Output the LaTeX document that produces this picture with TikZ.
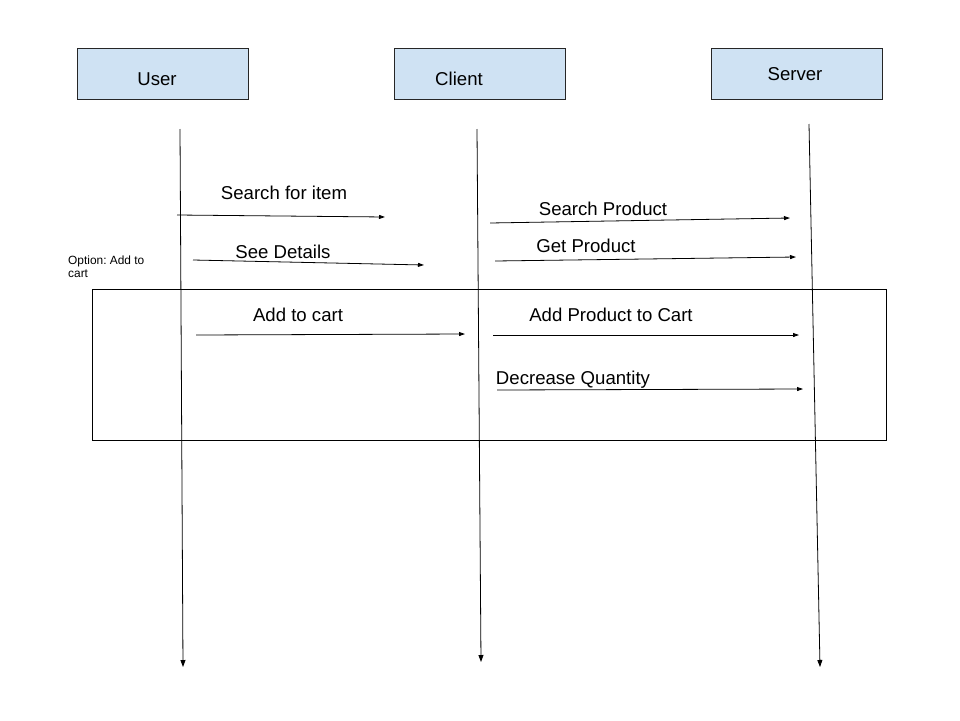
\documentclass[tikz,border=0pt]{standalone}
\usepackage{fontspec}
\setmainfont{Liberation Sans}
\usetikzlibrary{arrows.meta}
\frenchspacing
\begin{document}
\begin{tikzpicture}[x=1pt,y=-1pt,
  actor/.style={draw=black!85,fill=actorblue,line width=0.8pt,minimum width=171pt,minimum height=51pt,inner sep=0pt},
  lbl/.style={font=\fontsize{18.6}{22}\selectfont,inner sep=0pt},
  small/.style={font=\fontsize{11.9}{13.5}\selectfont,inner sep=0pt,align=left},
  msg/.style={line width=0.8pt,-{Triangle[length=6pt,width=4pt]}},
  life/.style={line width=0.8pt,-{Triangle[length=7pt,width=5pt]}}]
\definecolor{actorblue}{HTML}{CFE2F3}
\fill[white] (0,0) rectangle (960,720);
\useasboundingbox (0,0) rectangle (960,720);
% actor boxes
\node[actor] (userbox) at (162.5,73.5) {};
\node[actor] (clientbox) at (479.5,73.5) {};
\node[actor] (serverbox) at (796.5,73.5) {};
\node[lbl] (usert) at (157,79) {User};
\node[lbl] (clientt) at (459,79) {Client};
\node[lbl] (servert) at (795,74) {Server};
% lifelines
\coordinate (u1) at (180,129); \coordinate (u2) at (183,667);
\coordinate (c1) at (477,129); \coordinate (c2) at (481,662);
\coordinate (s1) at (809,124); \coordinate (s2) at (820,667);
\draw[life] (u1) -- (u2);
\draw[life] (c1) -- (c2);
\draw[life] (s1) -- (s2);
% option frame
\node[draw=black,line width=0.8pt,minimum width=794pt,minimum height=151pt,inner sep=0pt] (frame) at (489,364.5) {};
\node[small,anchor=north west] (opt) at (68,255.5) {Option: Add to\\cart};
% messages
\coordinate (m1a) at (177,215); \coordinate (m1b) at (385,217);
\draw[msg] (m1a) -- (m1b);
\node[lbl] (m1t) at (284,192.5) {Search for item};
\coordinate (m2a) at (193,260); \coordinate (m2b) at (424,265);
\draw[msg] (m2a) -- (m2b);
\node[lbl] (m2t) at (283,251.5) {See Details};
\coordinate (m3a) at (490,223); \coordinate (m3b) at (790,218);
\draw[msg] (m3a) -- (m3b);
\node[lbl] (m3t) at (603,208.5) {Search Product};
\coordinate (m4a) at (495,261); \coordinate (m4b) at (796,257);
\draw[msg] (m4a) -- (m4b);
\node[lbl] (m4t) at (586,245.5) {Get Product};
\coordinate (m5a) at (196,335); \coordinate (m5b) at (465,334);
\draw[msg] (m5a) -- (m5b);
\node[lbl] (m5t) at (298,314.5) {Add to cart};
\coordinate (m6a) at (493,335); \coordinate (m6b) at (799,335);
\draw[msg] (m6a) -- (m6b);
\node[lbl] (m6t) at (611,314.5) {Add Product to Cart};
\coordinate (m7a) at (497,390); \coordinate (m7b) at (803,389);
\draw[msg] (m7a) -- (m7b);
\node[lbl] (m7t) at (573,379.5) {Decrease Quantity};
\end{tikzpicture}
\end{document}
